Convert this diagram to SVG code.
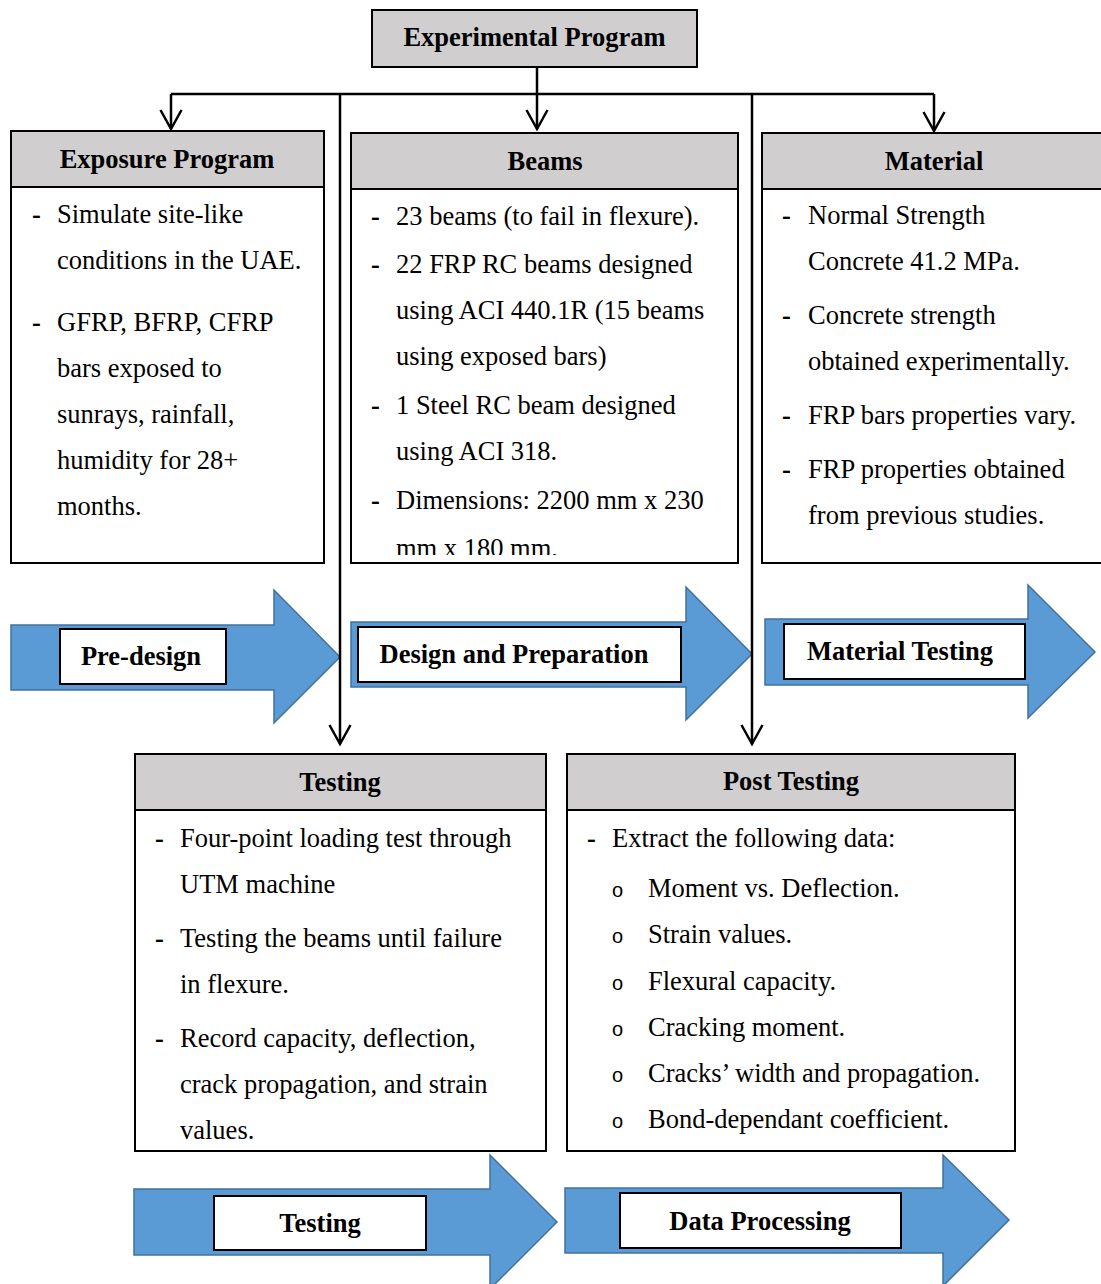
<svg xmlns="http://www.w3.org/2000/svg" width="1101" height="1284" viewBox="0 0 1101 1284">
  <style>
    .box { fill: #ffffff; stroke: #000000; stroke-width: 2; }
    .hdr { fill: #d0cece; stroke: #000000; stroke-width: 2; }
    .t { font-family: "Liberation Serif", "Times New Roman", serif; font-size: 26.5px; fill: #000000; }
    .h { font-weight: bold; text-anchor: middle; }
    .d { font-weight: bold; }
    .o { font-family: "Liberation Sans", Arial, sans-serif; font-size: 20px; }
    .conn { fill: none; stroke: #000000; stroke-width: 2.5; }
    .flow { fill: #5b9bd5; stroke: #41719c; stroke-width: 1.5; }
    .lbl { fill: #ffffff; stroke: #000000; stroke-width: 2; }
  </style>
  <defs>
    <marker id="open" viewBox="-24 -13 28 26" refX="0" refY="0" markerWidth="28" markerHeight="26" markerUnits="userSpaceOnUse" orient="auto">
      <path d="M-19,-10.5 L0,0 L-19,10.5" fill="none" stroke="#000000" stroke-width="2.5"/>
    </marker>
    <clipPath id="beamsClip">
      <rect x="351" y="189" width="387" height="366"/>
    </clipPath>
  </defs>

  <rect width="1101" height="1284" fill="#ffffff"/>

  <!-- root -->
  <g id="experimental-program">
    <rect class="hdr" x="372" y="10" width="325" height="57"/>
    <text class="t h" x="534.5" y="46">Experimental Program</text>
  </g>

  <!-- exposure program -->
  <g id="exposure-program">
    <rect class="box" x="11" y="131" width="313" height="432"/>
    <rect class="hdr" x="11" y="131" width="313" height="56"/>
    <text class="t h" x="167" y="168">Exposure Program</text>
    <g class="t">
      <text class="d" x="32" y="223">-</text>
      <text x="57" y="223">Simulate site-like</text>
      <text x="57" y="269">conditions in the UAE.</text>
      <text class="d" x="32" y="331">-</text>
      <text x="57" y="331">GFRP, BFRP, CFRP</text>
      <text x="57" y="377">bars exposed to</text>
      <text x="57" y="423">sunrays, rainfall,</text>
      <text x="57" y="469">humidity for 28+</text>
      <text x="57" y="515">months.</text>
    </g>
  </g>

  <!-- beams -->
  <g id="beams">
    <rect class="box" x="351" y="133" width="387" height="430"/>
    <rect class="hdr" x="351" y="133" width="387" height="56"/>
    <text class="t h" x="545" y="170">Beams</text>
    <g class="t" clip-path="url(#beamsClip)">
      <text class="d" x="371" y="225">-</text>
      <text x="396" y="225">23 beams (to fail in flexure).</text>
      <text class="d" x="371" y="273">-</text>
      <text x="396" y="273">22 FRP RC beams designed</text>
      <text x="396" y="319">using ACI 440.1R (15 beams</text>
      <text x="396" y="365">using exposed bars)</text>
      <text class="d" x="371" y="414">-</text>
      <text x="396" y="414">1 Steel RC beam designed</text>
      <text x="396" y="460">using ACI 318.</text>
      <text class="d" x="371" y="509">-</text>
      <text x="396" y="509">Dimensions: 2200 mm x 230</text>
      <text x="396" y="557">mm x 180 mm.</text>
    </g>
  </g>

  <!-- material -->
  <g id="material">
    <rect class="box" x="762" y="133" width="345" height="430"/>
    <rect class="hdr" x="762" y="133" width="345" height="56"/>
    <text class="t h" x="934" y="170">Material</text>
    <g class="t">
      <text class="d" x="782" y="224">-</text>
      <text x="808" y="224">Normal Strength</text>
      <text x="808" y="270">Concrete 41.2 MPa.</text>
      <text class="d" x="782" y="324">-</text>
      <text x="808" y="324">Concrete strength</text>
      <text x="808" y="370">obtained experimentally.</text>
      <text class="d" x="782" y="424">-</text>
      <text x="808" y="424">FRP bars properties vary.</text>
      <text class="d" x="782" y="478">-</text>
      <text x="808" y="478">FRP properties obtained</text>
      <text x="808" y="524">from previous studies.</text>
    </g>
  </g>

  <!-- testing -->
  <g id="testing">
    <rect class="box" x="135" y="754" width="411" height="397"/>
    <rect class="hdr" x="135" y="754" width="411" height="56"/>
    <text class="t h" x="340" y="791">Testing</text>
    <g class="t">
      <text class="d" x="155" y="847">-</text>
      <text x="180" y="847">Four-point loading test through</text>
      <text x="180" y="893">UTM machine</text>
      <text class="d" x="155" y="947">-</text>
      <text x="180" y="947">Testing the beams until failure</text>
      <text x="180" y="993">in flexure.</text>
      <text class="d" x="155" y="1047">-</text>
      <text x="180" y="1047">Record capacity, deflection,</text>
      <text x="180" y="1093">crack propagation, and strain</text>
      <text x="180" y="1139">values.</text>
    </g>
  </g>

  <!-- post testing -->
  <g id="post-testing">
    <rect class="box" x="567" y="754" width="448" height="397"/>
    <rect class="hdr" x="567" y="754" width="448" height="56"/>
    <text class="t h" x="791" y="790">Post Testing</text>
    <g class="t">
      <text class="d" x="587" y="847">-</text>
      <text x="612" y="847">Extract the following data:</text>
      <text class="o" x="612" y="897">o</text>
      <text x="648" y="897">Moment vs. Deflection.</text>
      <text class="o" x="612" y="943">o</text>
      <text x="648" y="943">Strain values.</text>
      <text class="o" x="612" y="990">o</text>
      <text x="648" y="990">Flexural capacity.</text>
      <text class="o" x="612" y="1036">o</text>
      <text x="648" y="1036">Cracking moment.</text>
      <text class="o" x="612" y="1082">o</text>
      <text x="648" y="1082">Cracks’ width and propagation.</text>
      <text class="o" x="612" y="1128">o</text>
      <text x="648" y="1128">Bond-dependant coefficient.</text>
    </g>
  </g>

  <!-- phase arrows -->
  <g id="phase-pre-design">
    <polygon class="flow" points="11,625 274,625 274,590 340,657 274,723 274,690 11,690"/>
    <rect class="lbl" x="60" y="629" width="166" height="55"/>
    <text class="t h" x="141" y="665">Pre-design</text>
  </g>
  <g id="phase-design">
    <polygon class="flow" points="351,622 686,622 686,587 752,654 686,720 686,687 351,687"/>
    <rect class="lbl" x="358" y="627" width="323" height="55"/>
    <text class="t h" x="514" y="663">Design and Preparation</text>
  </g>
  <g id="phase-material-testing">
    <polygon class="flow" points="765,619 1028,619 1028,585 1095,652 1028,718 1028,685 765,685"/>
    <rect class="lbl" x="784" y="624" width="241" height="55"/>
    <text class="t h" x="900" y="660">Material Testing</text>
  </g>
  <g id="phase-testing">
    <polygon class="flow" points="134,1189 490,1189 490,1155 557,1222 490,1289 490,1255 134,1255"/>
    <rect class="lbl" x="214" y="1196" width="212" height="54"/>
    <text class="t h" x="320" y="1232">Testing</text>
  </g>
  <g id="phase-data-processing">
    <polygon class="flow" points="565,1188 943,1188 943,1155 1009,1220 943,1286 943,1253 565,1253"/>
    <rect class="lbl" x="620" y="1193" width="281" height="55"/>
    <text class="t h" x="760" y="1230">Data Processing</text>
  </g>

  <!-- connectors -->
  <g id="connectors">
    <path class="conn" d="M537,67 V129" marker-end="url(#open)"/>
    <path class="conn" d="M171,94 H934"/>
    <path class="conn" d="M171,94 V129" marker-end="url(#open)"/>
    <path class="conn" d="M934,94 V131" marker-end="url(#open)"/>
    <path class="conn" d="M340,94 V744" marker-end="url(#open)"/>
    <path class="conn" d="M752,94 V744" marker-end="url(#open)"/>
  </g>
</svg>
